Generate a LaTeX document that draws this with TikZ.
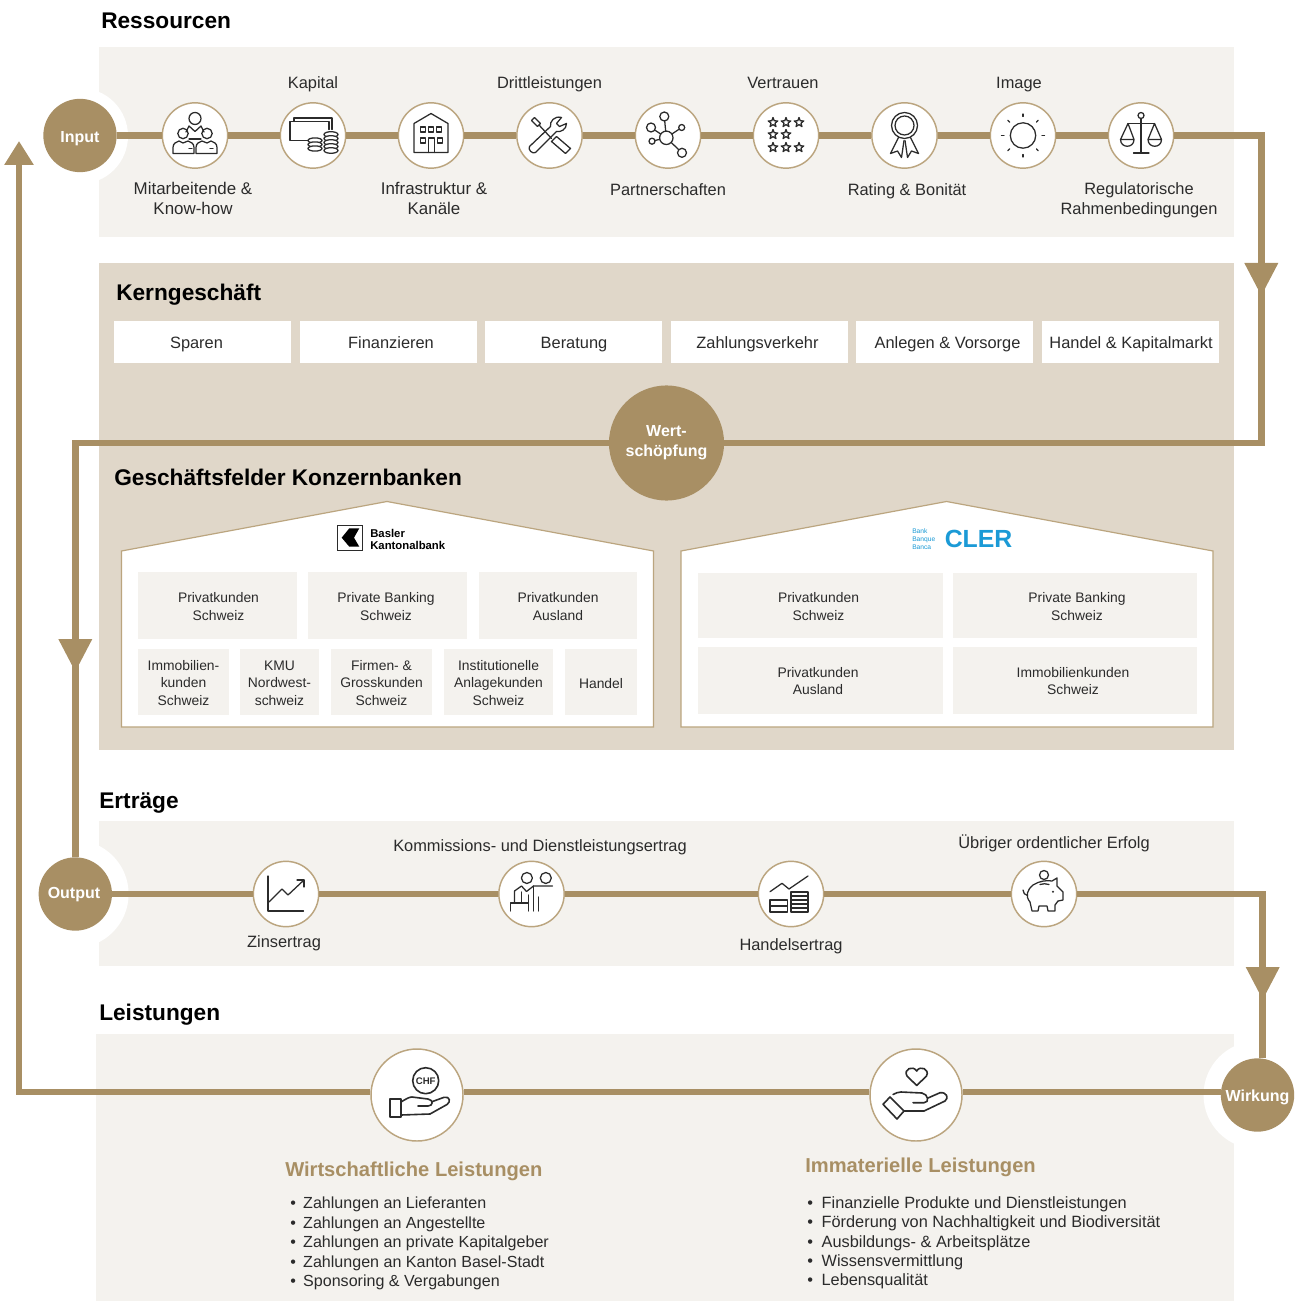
\documentclass[tikz,border=0pt]{standalone}
\usepackage{fontspec}
\setmainfont{Liberation Sans}
\usetikzlibrary{arrows.meta}
\definecolor{gold}{HTML}{A88F64}
\definecolor{ring}{HTML}{BBA57F}
\definecolor{pale}{HTML}{F4F2EE}
\definecolor{sand}{HTML}{E0D7C9}
\definecolor{ink}{HTML}{2B2B2B}
\definecolor{clerblue}{HTML}{1B9AD6}
\newcommand\iconstar[2]{\draw[iconline,shift={(#1,#2)}] (-90:5)--(-54:2.1)--(-18:5)--(18:2.1)--(54:5)--(90:2.1)--(126:5)--(162:2.1)--(198:5)--(234:2.1)--cycle;}
\tikzset{
  struts/.style={execute at begin node={\strut},execute at end node={\strut}},
  txt/.style={struts,yshift=-2.25pt},
  panel/.style={fill=#1,draw=none},
  flow/.style={draw=gold,line width=5.1pt,line join=miter},
  flowdown/.style={flow,-{Triangle[length=24.75pt,width=24pt]}},
  flowup/.style={flow,-{Triangle[length=18pt,width=21pt]}},
  hub/.style={struts,circle,fill=gold,inner sep=0pt,minimum size=55pt,text=white,align=center,font=\fontsize{12}{15}\selectfont\bfseries},
  halo/.style={fill=white,draw=none},
  iconcircle/.style={circle,fill=white,draw=ring,line width=1.1pt,inner sep=0pt,minimum size=49pt},
  bigcircle/.style={circle,fill=white,draw=ring,line width=1.1pt,inner sep=0pt,minimum size=69pt},
  iconline/.style={draw=ink,line width=0.95pt,line join=round,line cap=round},
  lab/.style={txt,text=ink,align=center,inner sep=0pt,font=\fontsize{12.3}{14.6}\selectfont},
  widelab/.style={lab,font=\fontsize{12.7}{14.6}\selectfont},
  seglab/.style={txt,text=ink,align=center,inner sep=0pt,font=\fontsize{10.4}{13}\selectfont},
  head/.style={txt,text=black,anchor=west,inner sep=0pt,font=\fontsize{17}{17}\selectfont\bfseries},
  goldhead/.style={txt,text=gold,anchor=west,inner sep=0pt,font=\fontsize{15.1}{16}\selectfont\bfseries},
  button/.style={fill=white,inner sep=0pt},
  segbox/.style={fill=pale,inner sep=0pt},
  house/.style={fill=white,draw=ring,line width=0.9pt,line join=miter},
  listitem/.style={txt,text=ink,anchor=west,inner sep=0pt,font=\fontsize{12.05}{14}\selectfont},
  listitemr/.style={listitem,font=\fontsize{12.25}{14}\selectfont},
}
\newcommand\boxat[5]{\node[#1,minimum width={(#4-#2)*0.75pt},minimum height={(#5-#3)*0.75pt}] at ({(#2+#4)/2},{(#3+#5)/2})}
\begin{document}
\begin{tikzpicture}[x=0.75pt,y=-0.75pt]
\useasboundingbox (0,0) rectangle (1299,1301);
% panels
\fill[panel=pale] (99,47) rectangle (1234,237);
\fill[panel=sand] (99,263) rectangle (1234,750);
\fill[panel=pale] (99,821) rectangle (1234,966);
\fill[panel=pale] (96,1034) rectangle (1234,1301);
% halos
\fill[halo] (80,136) circle (48);
\fill[halo] (74.6,894) circle (54);
\fill[halo] (1257.5,1095) circle (54);
% headings
\node[head] (hres) at (101,20.5) {Ressourcen};
\node[head] (hkern) at (116,293) {Kerngeschäft};
\node[head] (hgf) at (114,478) {Geschäftsfelder Konzernbanken};
\node[head] (hert) at (99,800.5) {Erträge};
\node[head] (hlei) at (99,1012.5) {Leistungen};
% hubs
\node[hub] (input) at (80,135.5) {\raisebox{-2.2pt}{Input}};
\node[hub] (output) at (75.3,894) {\hspace{-2pt}Output};
\node[hub] (wirkung) at (1257.5,1095) {\raisebox{-1.5pt}{Wirkung}};
\node[hub,minimum size=86.3pt] (wert) at (666.5,443) {\raisebox{-2.5pt}{Wert-}\\\raisebox{-2.5pt}{schöpfung}};
% resource circles
\node[iconcircle] (r1) at (195,135.5) {};
\node[iconcircle] (r2) at (313,135.5) {};
\node[iconcircle] (r3) at (431,135.5) {};
\node[iconcircle] (r4) at (549.5,135.5) {};
\node[iconcircle] (r5) at (668,135.5) {};
\node[iconcircle] (r6) at (786,135.5) {};
\node[iconcircle] (r7) at (904.5,135.5) {};
\node[iconcircle] (r8) at (1023,135.5) {};
\node[iconcircle] (r9) at (1141,135.5) {};
% income circles
\node[iconcircle] (e1) at (286,894) {};
\node[iconcircle] (e2) at (531.5,894) {};
\node[iconcircle] (e3) at (791,894) {};
\node[iconcircle] (e4) at (1044,894) {};
% performance circles
\node[bigcircle] (l1) at (417,1095) {};
\node[bigcircle] (l2) at (916,1095) {};
% connectors
\coordinate (c1) at (1261.3,135.5);
\coordinate (a1) at (1261.3,296);
\coordinate (c2) at (1261.3,443);
\coordinate (c3) at (75.3,443);
\coordinate (a2) at (75.3,672);
\coordinate (c4) at (1262.7,894);
\coordinate (a3) at (1262.7,1000);
\coordinate (c5) at (19,1092);
\coordinate (a4) at (19,141);
\draw[flow] (input)--(r1);
\draw[flow] (r1)--(r2);
\draw[flow] (r2)--(r3);
\draw[flow] (r3)--(r4);
\draw[flow] (r4)--(r5);
\draw[flow] (r5)--(r6);
\draw[flow] (r6)--(r7);
\draw[flow] (r7)--(r8);
\draw[flow] (r8)--(r9);
\draw[flowdown] (r9)--(c1)--(a1);
\draw[flow] ([yshift=9pt]a1)--(c2)--(wert);
\draw[flowdown] (wert)--(c3)--(a2);
\draw[flow] ([yshift=9pt]a2)--(output);
\draw[flow] (output)--(e1);
\draw[flow] (e1)--(e2);
\draw[flow] (e2)--(e3);
\draw[flow] (e3)--(e4);
\draw[flowdown] (e4)--(c4)--(a3);
\draw[flow] ([yshift=9pt]a3)--(a3 |- wirkung.north);
\draw[flow] ([yshift=2.25pt]wirkung.west)--([yshift=2.25pt]l2.east);
\draw[flow] ([yshift=2.25pt]l2.west)--([yshift=2.25pt]l1.east);
\draw[flowup] ([yshift=2.25pt]l1.west)--(c5)--(a4);
% resource labels
\node[widelab] (t1) at (193,198.5) {Mitarbeitende \&\\Know-how};
\node[lab] (t2) at (313,82) {Kapital};
\node[widelab] (t3) at (434,198.5) {Infrastruktur \&\\Kanäle};
\node[lab] (t4) at (549.5,82) {Drittleistungen};
\node[lab] (t5) at (668,189) {Partnerschaften};
\node[lab] (t6) at (783,82) {Vertrauen};
\node[lab] (t7) at (907,189) {Rating \& Bonität};
\node[lab] (t8) at (1019,82) {Image};
\node[lab] (t9) at (1139,198.5) {Regulatorische\\Rahmenbedingungen};
% income labels
\node[lab] (u1) at (284,941) {Zinsertrag};
\node[lab] (u2) at (540,845) {Kommissions- und Dienstleistungsertrag};
\node[lab] (u3) at (791,944) {Handelsertrag};
\node[lab] (u4) at (1054,842) {Übriger ordentlicher Erfolg};
% buttons
\boxat{button}{114}{321}{291}{363} (b1) {};
\boxat{button}{300}{321}{477}{363} (b2) {};
\boxat{button}{485}{321}{662}{363} (b3) {};
\boxat{button}{671}{321}{848}{363} (b4) {};
\boxat{button}{856}{321}{1033}{363} (b5) {};
\boxat{button}{1042}{321}{1219}{363} (b6) {};
\node[lab] (b1t) at (196.5,342) {Sparen};
\node[lab] (b2t) at (391,342) {Finanzieren};
\node[lab] (b3t) at (574,342) {Beratung};
\node[lab] (b4t) at (757.5,342) {Zahlungsverkehr};
\node[lab] (b5t) at (947.5,342) {Anlegen \& Vorsorge};
\node[lab] (b6t) at (1131,342) {Handel \& Kapitalmarkt};
% houses
\draw[house] (121.5,727)--(121.5,551)--(387,501.5)--(653.5,551)--(653.5,727)--cycle;
\draw[house] (681,727)--(681,551)--(946.5,501.5)--(1213,551)--(1213,727)--cycle;
% BKB logo
\draw[draw=ink,line width=0.8pt] (337.8,525.5) rectangle (362.8,550.5);
\fill[black] (341.7,537.7) -- (349.3,528.3) -- (359.3,528.3) -- (354,537.7) -- (359.3,546.7) -- (349.3,546.7) -- cycle;
\node[anchor=west,align=left,inner sep=0pt,text=black,font=\fontsize{8.5}{9}\selectfont\bfseries] (bkb) at (370,539) {Basler\\Kantonalbank};
% CLER logo
\node[anchor=west,align=left,inner sep=0pt,text=clerblue,font=\fontsize{5}{6}\selectfont] (clersub) at (912,539.5) {Bank\\Banque\\Banca};
\node[anchor=west,inner sep=0pt,text=clerblue,font=\fontsize{18.6}{19}\selectfont\bfseries] (cler) at (944.5,539) {CLER};
% segments house 1
\boxat{segbox}{138}{572}{297}{639} (s1) {};
\boxat{segbox}{308}{572}{467}{639} (s2) {};
\boxat{segbox}{479}{572}{637}{639} (s3) {};
\boxat{segbox}{138}{649}{229}{715} (s4) {};
\boxat{segbox}{240}{649}{319}{715} (s5) {};
\boxat{segbox}{331}{649}{432}{715} (s6) {};
\boxat{segbox}{444}{649}{553}{715} (s7) {};
\boxat{segbox}{565}{649}{637}{715} (s8) {};
\node[seglab] (s1t) at (218.5,606) {Privatkunden\\Schweiz};
\node[seglab] (s2t) at (386,606) {Private Banking\\Schweiz};
\node[seglab] (s3t) at (558,606) {Privatkunden\\Ausland};
\node[seglab] (s4t) at (183.5,682.5) {Immobilien-\\kunden\\Schweiz};
\node[seglab] (s5t) at (279.5,682.5) {KMU\\Nordwest-\\schweiz};
\node[seglab] (s6t) at (381.5,682.5) {Firmen- \&\\Grosskunden\\Schweiz};
\node[seglab] (s7t) at (498.5,682.5) {Institutionelle\\Anlagekunden\\Schweiz};
\node[seglab] (s8t) at (601,682.5) {Handel};
% segments house 2
\boxat{segbox}{698}{573}{943}{638} (v1) {};
\boxat{segbox}{953}{573}{1197}{638} (v2) {};
\boxat{segbox}{698}{647}{943}{714} (v3) {};
\boxat{segbox}{953}{647}{1197}{714} (v4) {};
\node[seglab] (v1t) at (818.5,606) {Privatkunden\\Schweiz};
\node[seglab] (v2t) at (1077,606) {Private Banking\\Schweiz};
\node[seglab] (v3t) at (818,680.5) {Privatkunden\\Ausland};
\node[seglab] (v4t) at (1073,680.5) {Immobilienkunden\\Schweiz};
% performance text
\node[goldhead] (wl) at (285,1169) {Wirtschaftliche Leistungen};
\node[goldhead] (il) at (805,1165) {Immaterielle Leistungen};
\node[listitem] (w1) at (290,1202) {•\hspace{5.5pt}Zahlungen an Lieferanten};
\node[listitem] (w2) at (290,1221.5) {•\hspace{5.5pt}Zahlungen an Angestellte};
\node[listitem] (w3) at (290,1241) {•\hspace{5.5pt}Zahlungen an private Kapitalgeber};
\node[listitem] (w4) at (290,1260.5) {•\hspace{5.5pt}Zahlungen an Kanton Basel-Stadt};
\node[listitem] (w5) at (290,1280) {•\hspace{5.5pt}Sponsoring \& Vergabungen};
\node[listitemr] (i1) at (807,1201.5) {•\hspace{6.5pt}Finanzielle Produkte und Dienstleistungen};
\node[listitemr] (i2) at (807,1221) {•\hspace{6.5pt}Förderung von Nachhaltigkeit und Biodiversität};
\node[listitemr] (i3) at (807,1240.5) {•\hspace{6.5pt}Ausbildungs- \& Arbeitsplätze};
\node[listitemr] (i4) at (807,1260) {•\hspace{6.5pt}Wissensvermittlung};
\node[listitemr] (i5) at (807,1279) {•\hspace{6.5pt}Lebensqualität};
% icon: people
\begin{scope}[shift={(195,135.5)}]
\draw[iconline] (0,-17) circle (6) (-12,-2) circle (5.2) (12,-2) circle (5.2);
\draw[iconline] (-22,18) -- (-22,12) .. controls (-22,8) and (-19,6.5) .. (-16,5.5) -- (-12,7.5) -- (-7,5.5) .. controls (-4,6.5) and (-1,8) .. (-1,12) -- (-1,18) -- cycle;
\draw[iconline] (22,18) -- (22,12) .. controls (22,8) and (19,6.5) .. (16,5.5) -- (12,7.5) -- (7,5.5) .. controls (4,6.5) and (1,8) .. (1,12) -- (1,18) -- cycle;
\draw[iconline] (-9,-3.5) -- (-6,-9.5) -- (0,-4) -- (6,-9.5) -- (9,-3.5);
\draw[iconline] (-6,3.5) -- (6,3.5) (-6,13) -- (-3,13) (15,13) -- (18,13);
\end{scope}
% icon: capital
\begin{scope}[shift={(313,135.5)}]
\draw[iconline] (-4,5) -- (-23,5) -- (-23,-14) -- (16,-14) -- (16,-6);
\draw[iconline] (-19,-14) -- (-19,-17.5) -- (19,-17.5) -- (19,-6);
\foreach \yy in {-1,3,7,11,15} \draw[iconline,fill=white] (18,\yy) ellipse (7 and 2.8);
\foreach \yy in {5,9,13} \draw[iconline,fill=white] (2,\yy) ellipse (7 and 2.6);
\end{scope}
% icon: building
\begin{scope}[shift={(431,135.5)}]
\draw[iconline] (-17,17) -- (-17,-12) -- (0,-22) -- (17,-12) -- (17,17) -- cycle;
\foreach \xx in {-8,0,8} \draw[iconline] ({\xx-2.8},-8.5) rectangle ({\xx+2.8},-3.5);
\draw[iconline] (-10.8,2.5) rectangle (-5.2,7.5) (6.2,2.5) rectangle (11.8,7.5);
\draw[iconline] (-2.5,17) -- (-2.5,2.5) -- (3.5,2.5) -- (3.5,17);
\end{scope}
% icon: tools
\begin{scope}[shift={(549.5,135.5)}]
\draw[iconline] (-15,-18) -- (-18,-15) -- (-12,-9) -- (-9,-12) -- cycle;
\draw[iconline] (-10.5,-10.5) -- (2,3);
\draw[iconline] (7,1) -- (21,13) -- (16,18) -- (2,6) -- cycle;
\draw[iconline] (-20,11) .. controls (-22,14) and (-17,19) .. (-14,17) -- (7,-4) .. controls (11,-3) and (17,-6) .. (17,-12) -- (10,-9) -- (7,-12) -- (12,-18) .. controls (5,-20) and (0,-14) .. (1,-9) -- cycle;
\end{scope}
% icon: network
\begin{scope}[shift={(668,135.5)}]
\draw[iconline] (-1.7,2.3) -- (-3.7,-19) (-1.7,2.3) -- (-17,-8) (-1.7,2.3) -- (13.7,-8) (-1.7,2.3) -- (-16,5.7) (-1.7,2.3) -- (14,17.3);
\draw[iconline,fill=white] (-1.7,2.3) circle (6.7) (-3.7,-19) circle (4.5) (-17,-8) circle (4.5) (13.7,-8) circle (3) (-16,5.7) circle (3) (14,17.3) circle (4.5);
\end{scope}
% icon: stars
\begin{scope}[shift={(786,135.5)}]
\iconstar{-13}{-13}\iconstar{0}{-13}\iconstar{13}{-13}
\iconstar{-13}{-1}\iconstar{0}{-1}
\iconstar{-13}{12}\iconstar{0}{12}\iconstar{13}{12}
\end{scope}
% icon: rosette
\begin{scope}[shift={(904.5,135.5)}]
\draw[iconline] (0,-10) circle (13) (0,-10) circle (9.5);
\draw[iconline] (-6,2) -- (-14,18) -- (-7,15.5) -- (-3,22) -- (-0.5,5);
\draw[iconline] (6,2) -- (14,18) -- (7,15.5) -- (3,22) -- (0.5,5);
\end{scope}
% icon: sun
\begin{scope}[shift={(1023,135.5)}]
\draw[iconline] (0,0) circle (12.7);
\foreach \aa in {0,45,...,315} \draw[iconline] (\aa:19) -- (\aa:21.5);
\end{scope}
% icon: scales
\begin{scope}[shift={(1141,135.5)}]
\draw[iconline] (0,-17) -- (0,17.5) (-7.5,17.5) -- (8,17.5) (-13,-12) -- (13.5,-12);
\draw[iconline] (0,-20) circle (3);
\draw[iconline] (-20.5,4) -- (-13,-12) -- (-7,4) (-20.5,4) -- (-7,4) .. controls (-7,13) and (-20.5,13) .. (-20.5,4);
\draw[iconline] (7,4) -- (13.5,-12) -- (20.5,4) (7,4) -- (20.5,4) .. controls (20.5,13) and (7,13) .. (7,4);
\end{scope}
% icon: chart
\begin{scope}[shift={(286,894)}]
\draw[iconline] (-18,-18) -- (-18,17) -- (17.5,17);
\draw[iconline] (-17,8) -- (-4,-5) -- (2,1) -- (18,-14);
\draw[iconline] (11,-14) -- (18,-14) -- (18,-7);
\end{scope}
% icon: advisers
\begin{scope}[shift={(531.5,894)}]
\draw[iconline] (-4.6,-16) circle (5.5) (14.3,-16) circle (5.5);
\draw[iconline] (-21,17) -- (-21,9) -- (-3,9);
\draw[iconline] (-17,9) -- (-17,-3) -- (-10,-8) -- (-5,-2.5) -- (2,-8) -- (21,-8);
\draw[iconline] (-10,-2) -- (-10,9) (-3,1) -- (-3,17) (2,-8) -- (2,17) (7.2,3) -- (7.2,17);
\end{scope}
% icon: trading
\begin{scope}[shift={(791,894)}]
\draw[iconline] (-21,-2.3) -- (-9,-10.7) -- (-2,-5) -- (17,-18);
\draw[iconline] (-21,12) -- (-3.6,12);
\draw[iconline] (-21,6) rectangle (-3.6,18);
\foreach \yy in {2,6,10,14} \draw[iconline] (0,\yy) -- (17,\yy);
\draw[iconline] (0,-2) rectangle (17,18);
\end{scope}
% icon: piggy
\begin{scope}[shift={(1044,894)}]
\draw[iconline] (0,-19) circle (4.5);
\draw[iconline] (-4,-9.5) .. controls (-1,-10.5) and (2,-10.5) .. (5,-9.5);
\draw[iconline] (-12,17) -- (-14,8) .. controls (-19,2) and (-17,-4) .. (-11,-9) .. controls (-5,-13) and (3,-14) .. (8,-13) -- (13,-16) -- (13,-8) -- (19,-2) -- (19,6) -- (14,7) -- (11,11) -- (11,17) -- (4,17) -- (3,12) -- (-5,12) -- (-6,17) -- cycle;
\fill[ink] (9,-2.3) circle (1.1);
\draw[iconline] (-21,-4) .. controls (-21,-1) and (-19,1) .. (-16.5,1.5);
\end{scope}
% icon: CHF hand
\begin{scope}[shift={(417,1095)}]
\draw[iconline,line width=1.2pt] (8.7,-14.3) circle (13);
\node[text=ink,inner sep=0pt,font=\fontsize{7.2}{8}\selectfont\bfseries] (chf) at (8.7,-14.3) {CHF};
\draw[iconline,line width=1.2pt] (-27,4) rectangle (-16,22);
\draw[iconline,line width=1.2pt] (-16,7) .. controls (-11,4) and (-8,2) .. (-5,2) -- (11,4) .. controls (17,5) and (16,11) .. (11,11) -- (1,11);
\draw[iconline,line width=1.2pt] (15,6.7) -- (27,2.3) .. controls (33,1) and (34,7) .. (30,9.5) -- (13,19) -- (-16,20);
\end{scope}
% icon: heart hand
\begin{scope}[shift={(916,1095)}]
\draw[iconline,line width=1.2pt] (0.7,-9.5) -- (-9,-19) .. controls (-13,-26) and (-3,-30) .. (0.7,-24) .. controls (4,-30) and (14,-26) .. (10.5,-19) -- cycle;
\draw[iconline,line width=1.2pt] (-26,2) -- (-33,9.3) -- (-19,24) -- (-12,16) -- cycle;
\draw[iconline,line width=1.2pt] (-23,-0.5) .. controls (-20,-2) and (-18,-3) .. (-15,-3) -- (6,-2) .. controls (12,-1) and (14,7.7) .. (8,7.7) -- (-3,7.7);
\draw[iconline,line width=1.2pt] (12,3) -- (24,-2.3) .. controls (31,-3) and (33,3) .. (29,6) -- (8,16) -- (-12,16);
\end{scope}
\end{tikzpicture}
\end{document}
